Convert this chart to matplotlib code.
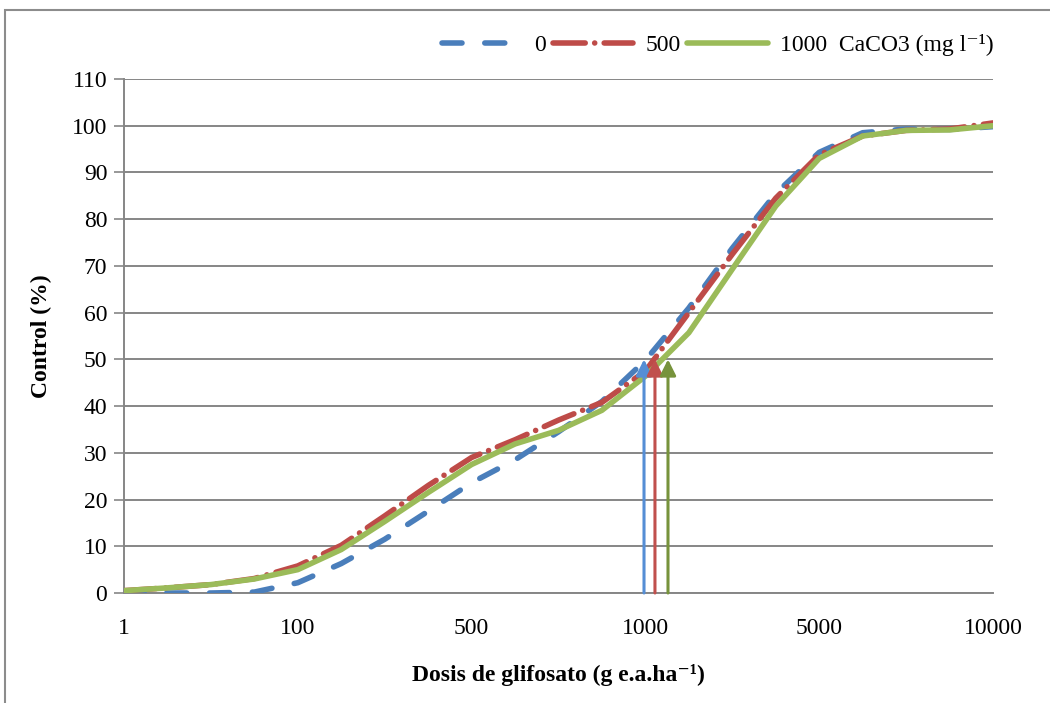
import matplotlib
matplotlib.use("Agg")
import matplotlib.pyplot as plt
from matplotlib.patches import Rectangle

plt.rcParams['font.family'] = ['Liberation Serif', 'DejaVu Serif']

# Category labels of the x axis (equally spaced categories)
categories = ["1", "100", "500", "1000", "5000", "10000"]

# Sample positions along the category axis (0 = "1", 5 = "10000")
x_pos = [0, 0.25, 0.5, 0.75, 1, 1.25, 1.5, 1.75, 2, 2.25, 2.5,
         2.75, 3, 3.25, 3.5, 3.75, 4, 4.25, 4.5, 4.75, 5]

ctrl_0 = [0, 0, 0, 0.2, 2.2, 6.3, 11.5, 17.5, 23.6, 28.5, 34.5,
          41.0, 49.8, 61.0, 73.8, 85.5, 94.3, 98.5, 99.3, 99.2, 99.8]
ctrl_500 = [0.5, 1.1, 1.8, 3.1, 5.8, 10.2, 16.5, 23.0, 29.0, 32.8, 37.0,
            40.8, 47.5, 60.0, 72.5, 84.5, 93.8, 97.8, 99.0, 99.3, 100.6]
ctrl_1000 = [0.5, 1.1, 1.8, 3.0, 5.0, 9.3, 15.3, 21.5, 27.5, 31.9, 34.8,
             39.1, 46.4, 55.7, 69.3, 82.8, 93.0, 97.8, 99.0, 99.1, 100.0]

series_labels = ["0", "500", "1000  CaCO3 (mg l\u207b\u00b9)"]

# ED50 arrows (position on the category axis, level reached)
arrow_pos = [2.992, 3.055, 3.13]
arrow_level = [50, 50, 50]

line_colors = ["#4A7EBB", "#BE4B48", "#9BBB59"]
arrow_colors = ["#558ED5", "#C0504D", "#77933C"]

fig = plt.figure(figsize=(10.5, 7.03), dpi=100)
ax = fig.add_axes([124 / 1050, 1 - 593 / 703, (993 - 124) / 1050, (593 - 79) / 703])

lw = 4.0
l0, = ax.plot(x_pos, ctrl_0, color=line_colors[0], lw=lw,
              dashes=(3.6, 4.1), dash_capstyle='round', zorder=3)
l1, = ax.plot(x_pos, ctrl_500, color=line_colors[1], lw=lw,
              dashes=(5.8, 1.7, 0.01, 1.7), dash_capstyle='round', zorder=4)
l2, = ax.plot(x_pos, ctrl_1000, color=line_colors[2], lw=lw,
              solid_capstyle='round', solid_joinstyle='round', zorder=5)

for xp, lv, c in zip(arrow_pos, arrow_level, arrow_colors):
    ax.annotate('', xy=(xp, lv), xytext=(xp, 0),
                arrowprops=dict(arrowstyle='-|>', color=c, lw=2.2,
                                mutation_scale=24, shrinkA=0, shrinkB=0),
                zorder=6)

ax.set_xlim(0, 5)
ax.set_ylim(0, 110)
ax.set_yticks(range(0, 111, 10))
ax.set_xticks(range(len(categories)))
ax.set_xticklabels(categories)
ax.yaxis.grid(True, color='#868686', lw=1.4)
ax.set_axisbelow(True)
for s in ['top', 'right']:
    ax.spines[s].set_visible(False)
for s in ['left', 'bottom']:
    ax.spines[s].set_color('#868686')
    ax.spines[s].set_linewidth(1.4)
ax.tick_params(axis='y', length=7, width=1.2, color='#868686', pad=5,
               labelsize=17)
ax.tick_params(axis='x', length=0, pad=18, labelsize=17)

ax.set_ylabel("Control (%)", fontsize=17, fontweight='bold', labelpad=14)
ax.set_xlabel("Dosis de glifosato (g e.a.ha\u207b\u00b9)", fontsize=17,
              fontweight='bold', labelpad=18)

fig.legend([l0, l1, l2], series_labels, loc='center right',
           bbox_to_anchor=(1005 / 1050, 1 - 45 / 703), ncol=3, frameon=False,
           fontsize=17, handlelength=3.4, handletextpad=0.5,
           columnspacing=0.3, borderpad=0)

fig.patches.append(Rectangle((5 / 1050, -0.05), 1.2, 1 - 10 / 703 + 0.05,
                             transform=fig.transFigure, fill=False,
                             edgecolor='#8C8C8C', lw=1.5))

fig.savefig("out.png", dpi=100)
